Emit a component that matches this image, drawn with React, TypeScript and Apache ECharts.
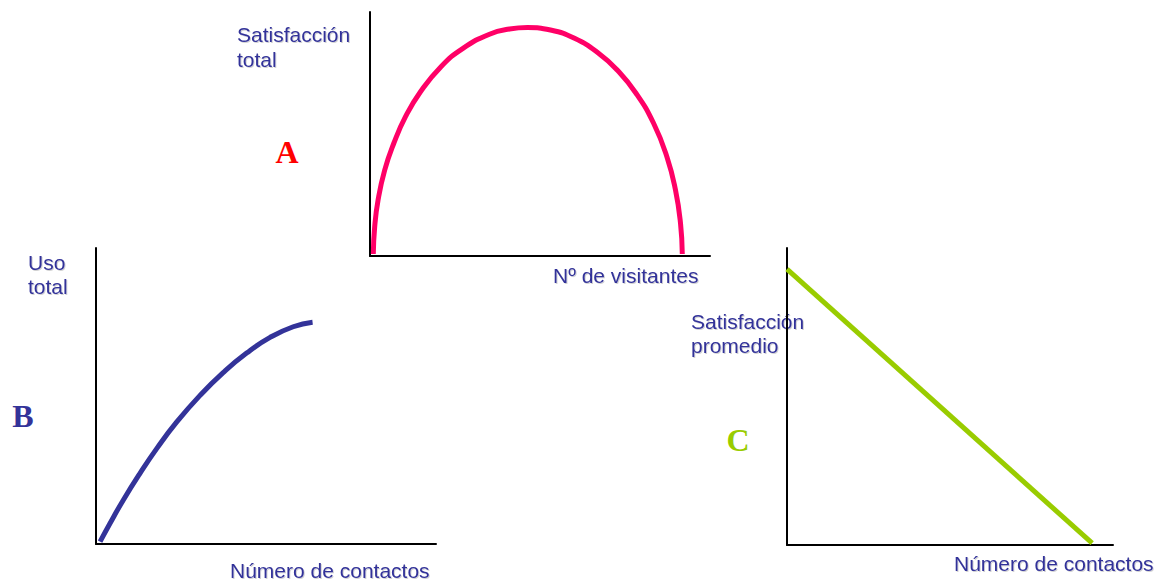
import React, { useEffect, useRef } from "react";
import * as echarts from "echarts";

// Curve A: Satisfacción total vs Nº de visitantes
const curveAX = [0.97, 1.38, 2.38, 4.32, 7.0, 10.44, 14.85, 20.88, 27.35, 35.15, 41.03, 46.32, 53.09, 60.15, 67.21, 72.71, 78.24, 83.41, 87.32, 89.85, 91.32, 91.85];
const curveAY = [0.8, 12.0, 23.0, 35.2, 46.2, 57.1, 67.3, 77.6, 85.1, 90.9, 93.0, 93.6, 92.6, 89.2, 83.1, 76.2, 66.7, 54.4, 40.7, 27.0, 13.5, 0.8];

// Curve B: Uso total vs Número de contactos
const curveBX = [1.2, 4.1, 8.0, 12.9, 17.9, 23.7, 30.6, 37.4, 44.3, 51.2, 58.0, 63.7];
const curveBY = [0.78, 6.93, 14.8, 23.8, 32.3, 41.15, 50.2, 57.9, 64.5, 69.8, 73.4, 74.9];

// Line C: Satisfacción promedio vs Número de contactos
const lineCX = [0, 93.6];
const lineCY = [92.9, 0.6];

const labelColor = "#333399";
const labelFont = '21px "Liberation Sans", Arial, sans-serif';
const letterFont = 'bold 32px "Liberation Serif", "Times New Roman", serif';

const pairs = (xs: number[], ys: number[]) => xs.map((x, i) => [x, ys[i]]);

export default function App() {
  const ref = useRef<HTMLDivElement>(null);
  useEffect(() => {
    if (!ref.current) return;
    const chart = echarts.init(ref.current, undefined, { renderer: "svg" });
    const axisCommon = {
      type: "value" as const,
      min: 0,
      max: 100,
      splitLine: { show: false },
      axisTick: { show: false },
      axisLabel: { show: false },
      axisLine: { show: true, lineStyle: { color: "#000", width: 2 } },
    };
    const label = (text: string, x: number, y: number) => ({
      type: "text",
      x,
      y,
      style: {
        text,
        font: labelFont,
        fill: labelColor,
        align: "left",
        verticalAlign: "middle",
        textShadowColor: "rgba(0,0,0,0.18)",
        textShadowBlur: 1,
        textShadowOffsetX: 1,
        textShadowOffsetY: 1,
      },
    });
    chart.setOption({
      animation: false,
      backgroundColor: "#fff",
      grid: [
        { left: 370, top: 12, width: 340, height: 244 },
        { left: 96, top: 248, width: 340, height: 296 },
        { left: 787, top: 248, width: 326, height: 297 },
      ],
      xAxis: [
        { ...axisCommon, gridIndex: 0 },
        { ...axisCommon, gridIndex: 1 },
        { ...axisCommon, gridIndex: 2 },
      ],
      yAxis: [
        { ...axisCommon, gridIndex: 0 },
        { ...axisCommon, gridIndex: 1 },
        { ...axisCommon, gridIndex: 2 },
      ],
      series: [
        {
          type: "line",
          xAxisIndex: 0,
          yAxisIndex: 0,
          data: pairs(curveAX, curveAY),
          smooth: 0.5,
          showSymbol: false,
          clip: false,
          lineStyle: { color: "#FF0066", width: 5 },
        },
        {
          type: "line",
          xAxisIndex: 1,
          yAxisIndex: 1,
          data: pairs(curveBX, curveBY),
          smooth: 0.5,
          showSymbol: false,
          clip: false,
          lineStyle: { color: "#333399", width: 5 },
        },
        {
          type: "line",
          xAxisIndex: 2,
          yAxisIndex: 2,
          data: pairs(lineCX, lineCY),
          showSymbol: false,
          clip: false,
          lineStyle: { color: "#99CC00", width: 5 },
        },
      ],
      graphic: [
        label("Satisfacción", 237, 34),
        label("total", 237, 59),
        label("Nº de visitantes", 553, 275),
        label("Uso", 28, 262),
        label("total", 28, 286),
        label("Número de contactos", 230, 570),
        label("Satisfacción", 691, 321),
        label("promedio", 691, 345),
        label("Número de contactos", 954, 563),
        { type: "text", x: 287, y: 152, style: { text: "A", font: letterFont, fill: "#FF0000", align: "center", verticalAlign: "middle" } },
        { type: "text", x: 23, y: 416, style: { text: "B", font: letterFont, fill: "#333399", align: "center", verticalAlign: "middle" } },
        { type: "text", x: 738, y: 440, style: { text: "C", font: letterFont, fill: "#99CC00", align: "center", verticalAlign: "middle" } },
      ],
    });
    return () => chart.dispose();
  }, []);
  return (
    <div
      ref={ref}
      style={{ position: "fixed", left: 0, top: 0, width: 1164, height: 584, background: "#fff" }}
    />
  );
}
